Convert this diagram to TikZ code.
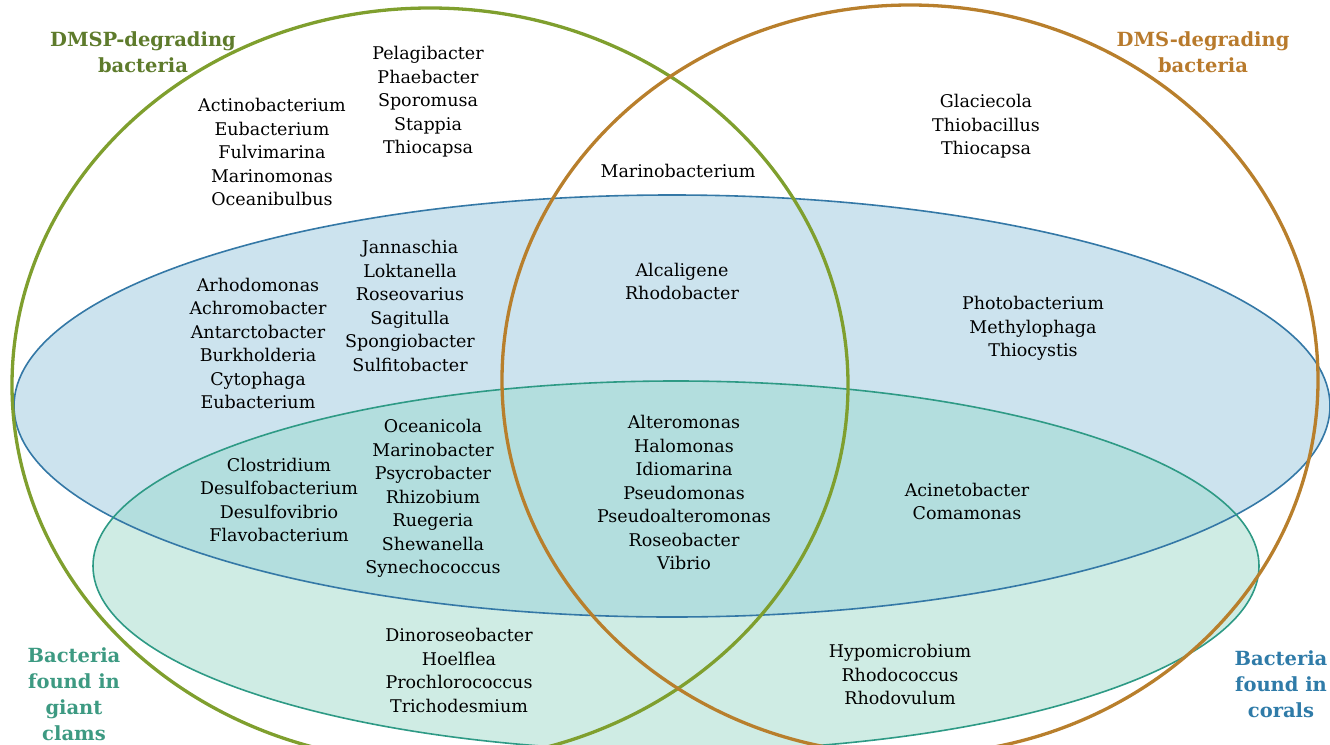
\documentclass[tikz,border=0pt]{standalone}
\usepackage{fontspec}
\setmainfont{DejaVu Serif}
\definecolor{dmspline}{HTML}{7F9F2E}
\definecolor{dmsline}{HTML}{B87F2C}
\definecolor{coralline}{HTML}{3478A6}
\definecolor{clamline}{HTML}{2E9A85}
\definecolor{coralfill}{HTML}{CCE3EE}
\definecolor{clamfill}{HTML}{CFECE4}
\definecolor{bothfill}{HTML}{B3DEDE}
\definecolor{dmsptext}{HTML}{5E7B2C}
\definecolor{dmstext}{HTML}{B87A2C}
\definecolor{clamtext}{HTML}{3D9A82}
\definecolor{coraltext}{HTML}{2F7BA8}
\begin{document}
\begin{tikzpicture}[x=1pt,y=-1pt,
  taxa/.style={align=center,font=\fontsize{17.5}{23.5}\selectfont,inner sep=0pt},
  setlabel/.style={align=center,font=\fontsize{19.5}{26}\selectfont\bfseries,inner sep=0pt}]
\useasboundingbox (0,0) rectangle (1330,744);
% sets
\fill[coralfill] (672,406) ellipse [x radius=658,y radius=211];
\fill[clamfill] (676,566) ellipse [x radius=583,y radius=185];
\begin{scope}
\clip (672,406) ellipse [x radius=658,y radius=211];
\fill[bothfill] (676,566) ellipse [x radius=583,y radius=185];
\end{scope}
\draw[coralline,line width=1.6pt] (672,406) ellipse [x radius=658,y radius=211];
\draw[clamline,line width=1.6pt] (676,566) ellipse [x radius=583,y radius=185];
\draw[dmspline,line width=3.3pt] (430,385) ellipse [x radius=418,y radius=377];
\draw[dmsline,line width=3.3pt] (910,380) ellipse [x radius=408,y radius=375];
% set names
\node[setlabel,dmsptext] (dmsp) at (143,52) {DMSP-degrading\\bacteria};
\node[setlabel,dmstext] (dms) at (1203,52) {DMS-degrading\\bacteria};
\node[setlabel,clamtext] (clams) at (74,694) {Bacteria\\found in\\giant\\clams};
\node[setlabel,coraltext] (corals) at (1281,684) {Bacteria\\found in\\corals};
% taxa
\node[taxa] (dmspA) at (272,152) {Actinobacterium\\Eubacterium\\Fulvimarina\\Marinomonas\\Oceanibulbus};
\node[taxa] (dmspB) at (428,102) {Pelagibacter\\Phaebacter\\Sporomusa\\Stappia\\Thiocapsa};
\node[taxa] (dmsonly) at (986,126.5) {Glaciecola\\Thiobacillus\\Thiocapsa};
\node[taxa] (dmspdms) at (678,171) {Marinobacterium};
\node[taxa] (dmspcoralA) at (258,343.5) {Arhodomonas\\Achromobacter\\Antarctobacter\\Burkholderia\\Cytophaga\\Eubacterium};
\node[taxa] (dmspcoralB) at (410,306) {Jannaschia\\Loktanella\\Roseovarius\\Sagitulla\\Spongiobacter\\Sulfitobacter};
\node[taxa] (dmspdmscoral) at (682,281.5) {Alcaligene\\Rhodobacter};
\node[taxa] (dmscoral) at (1033,328.5) {Photobacterium\\Methylophaga\\Thiocystis};
\node[taxa] (dmspallA) at (279,500) {Clostridium\\Desulfobacterium\\Desulfovibrio\\Flavobacterium};
\node[taxa] (dmspallB) at (433,498.5) {Oceanicola\\Marinobacter\\Psycrobacter\\Rhizobium\\Ruegeria\\Shewanella\\Synechococcus};
\node[taxa] (allfour) at (684,492.5) {Alteromonas\\Halomonas\\Idiomarina\\Pseudomonas\\Pseudoalteromonas\\Roseobacter\\Vibrio};
\node[taxa] (dmsall) at (967,501.5) {Acinetobacter\\Comamonas};
\node[taxa] (dmspclam) at (459,670.5) {Dinoroseobacter\\Hoelflea\\Prochlorococcus\\Trichodesmium};
\node[taxa] (dmsclam) at (900,674.5) {Hypomicrobium\\Rhodococcus\\Rhodovulum};
\end{tikzpicture}
\end{document}
